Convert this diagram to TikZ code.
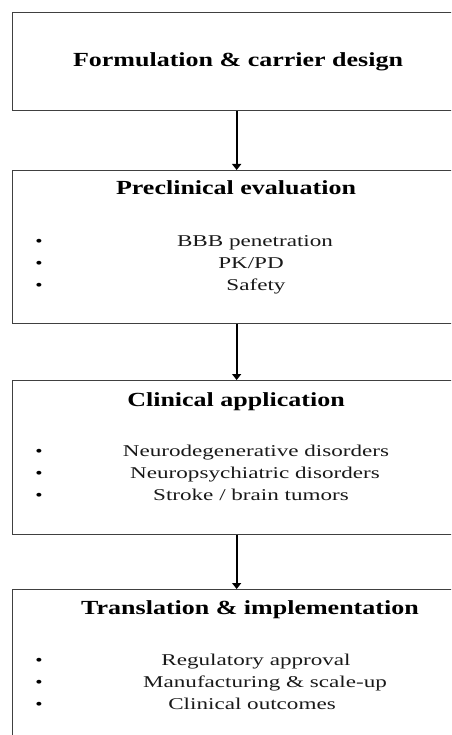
\documentclass[tikz,border=0pt]{standalone}
\usepackage{fontspec}
\setmainfont{Liberation Serif}
\usetikzlibrary{arrows.meta}
\begin{document}
\begin{tikzpicture}[x=1pt,y=-1pt,
  box/.style={draw=black!75, line width=1.3pt, minimum width=448pt, anchor=north west, inner sep=0pt},
  ttl/.style={font=\fontsize{20}{23}\selectfont\bfseries, xscale=1.3, anchor=base, inner sep=0pt},
  itm/.style={font=\fontsize{16.5}{19}\selectfont, xscale=1.4, anchor=base, inner sep=0pt, text=black!90},
  dot/.style={font=\fontsize{16}{19}\selectfont, xscale=1.3, anchor=base, inner sep=0pt},
  flow/.style={line width=1.8pt, -{Triangle[width=9pt,length=6pt]}}]
\useasboundingbox (0,0) rectangle (451,735);
\clip (0,0) rectangle (451,735);
\fill[white] (0,0) rectangle (451,735);
% boxes
\node[box, minimum height=98pt]  (b1) at (12,12)  {};
\node[box, minimum height=153pt] (b2) at (12,170) {};
\node[box, minimum height=154pt] (b3) at (12,380) {};
\node[box, minimum height=170pt] (b4) at (12,589) {};
% connectors
\draw[flow] (b1.south) -- (b2.north);
\draw[flow] (b2.south) -- (b3.north);
\draw[flow] (b3.south) -- (b4.north);
% titles
\node[ttl] (t1) at (238,67)  {Formulation \& carrier design};
\node[ttl] (t2) at (236,195) {Preclinical evaluation};
\node[ttl] (t3) at (236,406) {Clinical application};
\node[ttl] (t4) at (250,614) {Translation \& implementation};
% box 2 items
\node[dot] (d21) at (39,246) {•};
\node[dot] (d22) at (39,268) {•};
\node[dot] (d23) at (39,290) {•};
\node[itm] (i21) at (255,246) {BBB penetration};
\node[itm] (i22) at (251,268) {PK/PD};
\node[itm] (i23) at (256,290) {Safety};
% box 3 items
\node[dot] (d31) at (39,456) {•};
\node[dot] (d32) at (39,478) {•};
\node[dot] (d33) at (39,500) {•};
\node[itm] (i31) at (256,456) {Neurodegenerative disorders};
\node[itm] (i32) at (255,478) {Neuropsychiatric disorders};
\node[itm] (i33) at (251,500) {Stroke / brain tumors};
% box 4 items
\node[dot] (d41) at (39,665) {•};
\node[dot] (d42) at (39,687) {•};
\node[dot] (d43) at (39,709) {•};
\node[itm] (i41) at (256,665) {Regulatory approval};
\node[itm] (i42) at (265,687) {Manufacturing \& scale-up};
\node[itm] (i43) at (252,709) {Clinical outcomes};
\end{tikzpicture}
\end{document}
